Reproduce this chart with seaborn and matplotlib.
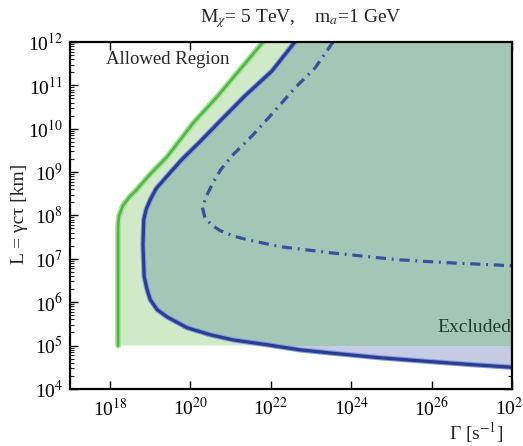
import numpy as np
import pandas as pd
import matplotlib
matplotlib.use("Agg")
import matplotlib.pyplot as plt
import seaborn as sns
from matplotlib.patches import Rectangle
from matplotlib.ticker import LogLocator, NullFormatter, FixedLocator, FixedFormatter

# Decay-length contours, stored as log10 values: log10(Gamma / s^-1), log10(L / km)
green_log_gamma = [18.20, 18.20, 18.22, 18.32, 18.48, 18.67, 19.00, 19.42, 20.07, 20.66, 21.25, 21.81]
green_log_L     = [5.00, 7.74, 7.98, 8.22, 8.42, 8.60, 8.95, 9.35, 10.13, 10.73, 11.38, 12.00]

blue_log_gamma = [22.60, 22.03, 21.35, 20.69, 20.24, 19.80, 19.49, 19.15, 19.00, 18.90, 18.84,
                  18.82, 18.85, 18.92, 19.00, 19.17, 19.42, 19.92, 20.49, 21.06, 21.90, 22.73,
                  23.47, 24.70, 25.96, 27.00, 28.00]
blue_log_L     = [12.00, 11.33, 10.75, 10.13, 9.70, 9.30, 8.98, 8.62, 8.36, 8.14, 7.90,
                  7.32, 6.59, 6.30, 6.06, 5.83, 5.66, 5.41, 5.25, 5.13, 5.02, 4.90,
                  4.83, 4.72, 4.63, 4.56, 4.50]

dash_log_gamma = [23.55, 23.10, 22.60, 22.05, 21.56, 21.06, 20.75, 20.56, 20.40, 20.30, 20.36,
                  20.52, 20.74, 21.05, 21.41, 22.23, 23.47, 25.14, 26.38, 28.00]
dash_log_L     = [12.00, 11.40, 10.94, 10.36, 9.86, 9.40, 9.05, 8.75, 8.45, 8.18, 7.95,
                  7.78, 7.65, 7.53, 7.44, 7.28, 7.14, 6.98, 6.91, 6.84]

region_floor_log_L = 5.00
x_tick_exponents = [18, 20, 22, 24, 26, 28]
y_tick_exponents = [4, 5, 6, 7, 8, 9, 10, 11, 12]

sns.set_theme(style="ticks")
plt.rcParams["font.family"] = ["Liberation Serif", "DejaVu Serif"]
plt.rcParams["mathtext.fontset"] = "stix"

fig = plt.figure(figsize=(5.23, 4.46), dpi=100)
ax = fig.add_axes([0.1335, 0.128, 0.8455, 0.778])
ax.set_xscale("log")
ax.set_yscale("log")

x_lo, x_hi = 1e17, 1e28
y_lo, y_hi = 1e4, 1e12


def to_df(lg, ll):
    return pd.DataFrame({"Gamma": 10.0 ** np.array(lg), "L": 10.0 ** np.array(ll)})


green_df = to_df(green_log_gamma, green_log_L)
blue_df = to_df(blue_log_gamma, blue_log_L)
dash_df = to_df(dash_log_gamma, dash_log_L)

floor = 10.0 ** region_floor_log_L

lavender = "#c6cbe4"
light_green = "#d0e9c6"
teal = "#a3c7b7"

# region right of the blue contour
blue_poly_x = list(blue_df["Gamma"]) + [x_hi, x_hi]
blue_poly_y = list(blue_df["L"]) + [blue_df["L"].iloc[-1], y_hi]
ax.fill(blue_poly_x, blue_poly_y, color=lavender, lw=0, zorder=1)

# region right of the green contour, above the floor
green_poly_x = list(green_df["Gamma"]) + [x_hi, x_hi]
green_poly_y = list(green_df["L"]) + [y_hi, floor]
ax.fill(green_poly_x, green_poly_y, color=light_green, lw=0, zorder=2)

# overlap of both regions
overlap = ax.fill(blue_poly_x, blue_poly_y, color=teal, lw=0, zorder=3)[0]
clip = Rectangle((x_lo, floor), x_hi - x_lo, y_hi - floor, transform=ax.transData)
overlap.set_clip_path(clip)

# contour lines
sns.lineplot(data=green_df, x="Gamma", y="L", sort=False, estimator=None, ax=ax,
             color="#a9e39a", lw=4.2, zorder=4)
sns.lineplot(data=green_df, x="Gamma", y="L", sort=False, estimator=None, ax=ax,
             color="#4fb848", lw=2.0, zorder=5)
sns.lineplot(data=blue_df, x="Gamma", y="L", sort=False, estimator=None, ax=ax,
             color="#7f9de0", lw=3.8, zorder=4)
sns.lineplot(data=blue_df, x="Gamma", y="L", sort=False, estimator=None, ax=ax,
             color="#2d3c8e", lw=2.3, zorder=5)
sns.lineplot(data=dash_df, x="Gamma", y="L", sort=False, estimator=None, ax=ax,
             color="#34539c", lw=2.3, zorder=5)
ax.lines[-1].set_dashes([3.2, 1.8, 0.6, 1.8])

ax.set_xlim(x_lo, x_hi)
ax.set_ylim(y_lo, y_hi)

# ticks
ax.xaxis.set_major_locator(FixedLocator([10.0 ** e for e in x_tick_exponents]))
ax.xaxis.set_major_formatter(FixedFormatter([r"10$^{%d}$" % e for e in x_tick_exponents]))
ax.xaxis.set_minor_locator(FixedLocator([]))
ax.yaxis.set_major_locator(FixedLocator([10.0 ** e for e in y_tick_exponents]))
ax.yaxis.set_major_formatter(FixedFormatter([r"10$^{%d}$" % e for e in y_tick_exponents]))
ax.yaxis.set_minor_locator(LogLocator(base=10, subs=np.arange(2, 10), numticks=20))
ax.yaxis.set_minor_formatter(NullFormatter())
ax.tick_params(axis="both", which="major", direction="in", length=6, width=1.0,
               top=True, right=True, labelsize=14, colors="black")
ax.tick_params(axis="x", which="major", pad=6)
ax.tick_params(axis="y", which="major", pad=5)
ax.tick_params(axis="both", which="minor", direction="in", length=3, width=0.8,
               top=True, right=True)
for s in ax.spines.values():
    s.set_linewidth(1.6)
    s.set_color("black")
    s.set_zorder(10)

ax.set_xlabel("")
ax.set_ylabel("")
fig.text(0.038, 0.52, "L = γcτ [km]", rotation=90, ha="center", va="center", fontsize=14)
fig.text(0.91, 0.03, r"Γ [s$^{-1}$]", ha="center", va="center", fontsize=14)
fig.text(0.575, 0.958, r"M$_\chi$= 5 TeV,    m$_a$=1 GeV", ha="center", va="center",
         fontsize=14)
ax.text(0.082, 0.975, "Allowed Region", transform=ax.transAxes, ha="left", va="top",
        fontsize=13.5, zorder=12)
ax.text(0.998, 0.178, "Excluded", transform=ax.transAxes, ha="right", va="center",
        fontsize=14, color="#1d3d28", zorder=12)

fig.savefig("out.png", dpi=100)
